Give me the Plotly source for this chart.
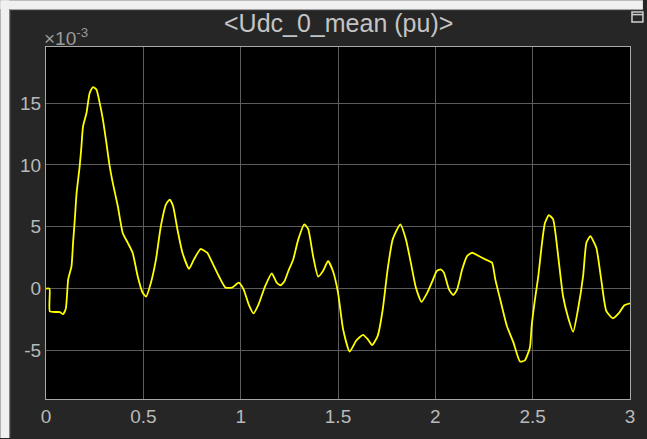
import plotly.graph_objects as go

# Scope trace: mean DC voltage deviation, values in units of 1e-3 pu
t = [0.0, 0.018, 0.02, 0.071, 0.088, 0.102, 0.114, 0.131, 0.139, 0.148, 0.157,
     0.173, 0.182, 0.19, 0.208, 0.224, 0.241, 0.259, 0.276, 0.292, 0.31, 0.327,
     0.343, 0.369, 0.394, 0.42, 0.445, 0.471, 0.496, 0.514, 0.539, 0.565, 0.59,
     0.616, 0.636, 0.653, 0.675, 0.701, 0.735, 0.76, 0.794, 0.828, 0.854, 0.888,
     0.922, 0.956, 0.99, 1.015, 1.041, 1.066, 1.092, 1.126, 1.16, 1.185, 1.205,
     1.225, 1.245, 1.27, 1.296, 1.327, 1.347, 1.372, 1.398, 1.423, 1.449, 1.474,
     1.5, 1.526, 1.56, 1.594, 1.628, 1.653, 1.675, 1.704, 1.73, 1.755, 1.781,
     1.82, 1.849, 1.874, 1.9, 1.929, 1.959, 1.985, 2.007, 2.027, 2.044, 2.07,
     2.092, 2.112, 2.138, 2.163, 2.189, 2.223, 2.257, 2.291, 2.308, 2.333, 2.367,
     2.401, 2.435, 2.46, 2.486, 2.495, 2.512, 2.529, 2.546, 2.563, 2.583, 2.605,
     2.631, 2.656, 2.682, 2.708, 2.733, 2.759, 2.776, 2.796, 2.827, 2.852, 2.878,
     2.912, 2.945, 2.971, 3.0]
udc = [0.0, 0.0, -1.85, -1.9, -2.07, -1.6, 0.75, 1.8, 3.7, 5.6, 7.7,
       9.9, 11.5, 13.1, 14.2, 15.8, 16.3, 16.1, 15.0, 13.7, 11.8, 9.9,
       8.55, 6.66, 4.5, 3.7, 2.9, 1.0, -0.32, -0.65, 0.48, 2.36, 5.05,
       6.8, 7.2, 6.66, 4.8, 2.9, 1.6, 2.36, 3.2, 2.9, 2.1, 1.0,
       0.08, 0.08, 0.48, -0.06, -1.27, -2.0, -1.27, 0.2, 1.23, 0.48, 0.27,
       0.6, 1.42, 2.36, 3.98, 5.2, 4.8, 2.63, 0.97, 1.42, 2.23, 1.42,
       -0.32, -3.28, -5.1, -4.2, -3.74, -4.1, -4.57, -3.82, -1.67, 1.56, 3.98,
       5.2, 3.98, 2.1, 0.08, -1.08, -0.32, 0.61, 1.42, 1.56, 1.29, -0.06,
       -0.52, -0.06, 1.56, 2.63, 2.9, 2.63, 2.36, 2.1, 0.75, -0.86, -3.0,
       -4.35, -5.9, -5.8, -4.76, -3.0, -0.86, 1.0, 3.44, 5.3, 5.94, 5.6,
       2.63, -0.6, -2.34, -3.5, -1.67, 1.0, 3.7, 4.24, 3.3, 0.75, -1.8,
       -2.4, -1.94, -1.35, -1.19]

x_ticks = [0, 0.5, 1, 1.5, 2, 2.5, 3]
x_tick_text = ["0", "0.5", "1", "1.5", "2", "2.5", "3"]
y_ticks = [-5, 0, 5, 10, 15]
y_tick_text = ["-5", "0", "5", "10", "15"]

W, H = 647, 439
L, R, T, B = 46, 13, 47, 39
pw, ph = W - L - R, H - T - B


def px(x):
    return (x - L) / pw


def py(y):
    return (H - B - y) / ph


panel = "#262626"
text_col = "#b9b9b9"
font = "Liberation Sans, Arial, sans-serif"

fig = go.Figure()
fig.add_trace(go.Scatter(
    x=t, y=udc, mode="lines",
    line=dict(color="#ffff00", width=1.8, shape="spline", smoothing=0.5),
    hoverinfo="skip", showlegend=False,
))

axis_common = dict(
    showgrid=True, gridcolor="#5c5c5c", gridwidth=1,
    zeroline=False, showline=True, linecolor="#a8a8a8", linewidth=1,
    mirror=True, ticks="", tickfont=dict(family=font, size=19, color=text_col),
    fixedrange=True,
)

fig.update_layout(
    width=W, height=H,
    margin=dict(l=L, r=R, t=T, b=B),
    paper_bgcolor=panel, plot_bgcolor="#000000",
    xaxis=dict(range=[0, 3], tickvals=x_ticks, ticktext=x_tick_text, **axis_common),
    yaxis=dict(range=[-8.93, 19.54], tickvals=y_ticks, ticktext=y_tick_text, **axis_common),
    annotations=[
        dict(text="&lt;Udc_0_mean (pu)&gt;", xref="paper", yref="paper",
             x=0.5, y=py(23), xanchor="center", yanchor="middle", showarrow=False,
             font=dict(family=font, size=25, color="#c4c4c4")),
        dict(text="\u00d710<sup>-3</sup>", xref="paper", yref="paper",
             x=px(42), y=py(37), xanchor="left", yanchor="middle", showarrow=False,
             font=dict(family=font, size=19, color="#9a9a9a")),
    ],
    shapes=[
        # light window frame along the top and left edges
        dict(type="rect", xref="paper", yref="paper", x0=px(0), x1=px(W), y0=py(9), y1=py(0),
             fillcolor="#f0f0f0", line=dict(width=0), layer="above"),
        dict(type="rect", xref="paper", yref="paper", x0=px(0), x1=px(9), y0=py(H), y1=py(0),
             fillcolor="#f0f0f0", line=dict(width=0), layer="above"),
        dict(type="line", xref="paper", yref="paper", x0=px(9.5), x1=px(W), y0=py(9.5), y1=py(9.5),
             line=dict(color="#b0b0b0", width=1), layer="above"),
        dict(type="line", xref="paper", yref="paper", x0=px(9.5), x1=px(9.5), y0=py(H), y1=py(9.5),
             line=dict(color="#8a8a8a", width=1), layer="above"),
        # undock icon in the top-right corner
        dict(type="rect", xref="paper", yref="paper", x0=px(636), x1=px(647), y0=py(22), y1=py(12),
             fillcolor=panel, line=dict(color="#d0d0d0", width=1.5), layer="above"),
        dict(type="line", xref="paper", yref="paper", x0=px(636), x1=px(647), y0=py(14.5), y1=py(14.5),
             line=dict(color="#d0d0d0", width=1.5), layer="above"),
    ],
)

fig.write_html("out.html")
